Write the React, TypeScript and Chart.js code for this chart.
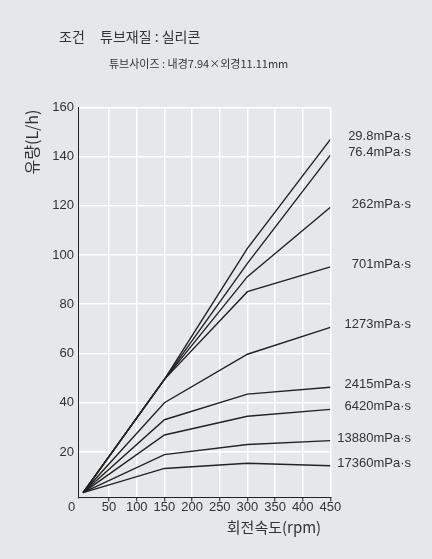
import { useEffect, useRef } from "react";
import { Chart, registerables } from "chart.js";

Chart.register(...registerables);

// ---- data ----
const rpmValues = [3, 150, 300, 450];
const seriesLabels = [
  "29.8mPa·s",
  "76.4mPa·s",
  "262mPa·s",
  "701mPa·s",
  "1273mPa·s",
  "2415mPa·s",
  "6420mPa·s",
  "13880mPa·s",
  "17360mPa·s",
];
const flow29_8 = [3.5, 49.5, 102.7, 147];
const flow76_4 = [3.5, 49.5, 96.6, 140.6];
const flow262 = [3.5, 49.5, 91.2, 119.4];
const flow701 = [3.5, 49.5, 85.1, 95.2];
const flow1273 = [3.5, 40, 59.7, 70.6];
const flow2415 = [3.5, 33.1, 43.5, 46.3];
const flow6420 = [3.5, 26.9, 34.5, 37.3];
const flow13880 = [3.5, 18.9, 23, 24.6];
const flow17360 = [3.5, 13.3, 15.4, 14.4];
const allFlows = [flow29_8, flow76_4, flow262, flow701, flow1273, flow2415, flow6420, flow13880, flow17360];

const xTickValues = [50, 100, 150, 200, 250, 300, 350, 400, 450];
const yTickValues = [20, 40, 60, 80, 100, 120, 140, 160];

const conditionText = "조건";
const materialText = "튜브재질 : 실리콘";
const sizeText = "튜브사이즈 : 내경7.94×외경11.11mm";
const yTitleText = "유량(L/h)";
const xTitleText = "회전속도(rpm)";
const originText = "0";

const BG = "#e6e7e9";
const INK = "#222222";
const TEXT = "#333333";
const LATIN = '"Liberation Sans", Arial, sans-serif';
const KR = '"Noto Sans CJK KR", "Noto Sans", sans-serif';

const textPlugin = {
  id: "extraText",
  afterDraw(chart: any) {
    const ctx = chart.ctx;
    ctx.save();
    ctx.fillStyle = TEXT;
    ctx.textBaseline = "middle";

    // titles
    ctx.textAlign = "left";
    ctx.font = `14px ${KR}`;
    ctx.fillText(conditionText, 59, 37);
    ctx.fillText(materialText, 100, 37);
    ctx.font = `11px ${KR}`;
    ctx.fillText(sizeText, 109, 63.5);

    // x axis title
    ctx.font = `15px ${KR}`;
    ctx.textAlign = "center";
    ctx.fillText(xTitleText, 274, 527);

    // y axis title
    ctx.save();
    ctx.font = `16px ${KR}`;
    ctx.translate(32, 142);
    ctx.rotate(-Math.PI / 2);
    ctx.textAlign = "center";
    ctx.fillText(yTitleText, 0, 0);
    ctx.restore();

    // origin label
    ctx.font = `13px ${LATIN}`;
    ctx.textAlign = "center";
    ctx.fillText(originText, 71.7, 507);

    // series labels at line ends
    ctx.textAlign = "right";
    ctx.font = `13px ${LATIN}`;
    chart.data.datasets.forEach((ds: any, i: number) => {
      const meta = chart.getDatasetMeta(i);
      const last = meta.data[meta.data.length - 1];
      ctx.fillText(ds.label, 411, last.y - 2.5);
    });
    ctx.restore();
  },
};

export default function App() {
  const canvasRef = useRef<HTMLCanvasElement | null>(null);

  useEffect(() => {
    if (!canvasRef.current) return;
    const chart = new Chart(canvasRef.current, {
      type: "line",
      data: {
        datasets: allFlows.map((flows, i) => ({
          label: seriesLabels[i],
          data: rpmValues.map((x, j) => ({ x, y: flows[j] })),
          borderColor: INK,
          borderWidth: 1.4,
          pointRadius: 0,
          tension: 0,
          fill: false,
        })),
      },
      options: {
        animation: false,
        responsive: false,
        events: [],
        layout: { padding: { left: 20, top: 107.3, right: 101.6, bottom: 31.5 } },
        plugins: {
          legend: { display: false },
          tooltip: { enabled: false },
          title: { display: false },
        },
        scales: {
          x: {
            type: "linear",
            min: -6.2,
            max: 450,
            afterBuildTicks: (s: any) => {
              s.ticks = xTickValues.map((v) => ({ value: v }));
            },
            afterFit: (s: any) => {
              s.height = 30;
            },
            grid: {
              color: "#ffffff",
              lineWidth: 1.5,
              drawTicks: true,
              tickLength: 4,
              tickColor: INK,
              tickWidth: 1,
            },
            border: { display: true, color: INK, width: 1 },
            ticks: {
              font: { family: LATIN, size: 13 },
              color: TEXT,
              padding: -2,
              maxRotation: 0,
              autoSkip: false,
            },
          },
          y: {
            type: "linear",
            min: 1.5,
            max: 160,
            afterBuildTicks: (s: any) => {
              s.ticks = yTickValues.map((v) => ({ value: v }));
            },
            afterFit: (s: any) => {
              s.width = 58;
            },
            grid: {
              color: "#ffffff",
              lineWidth: 1.5,
              drawTicks: false,
            },
            border: { display: true, color: INK, width: 1 },
            ticks: {
              font: { family: LATIN, size: 13 },
              color: TEXT,
              padding: 4,
              autoSkip: false,
            },
          },
        },
      } as any,
      plugins: [textPlugin],
    });
    return () => chart.destroy();
  }, []);

  return (
    <div
      style={{
        position: "absolute",
        left: 0,
        top: 0,
        width: 432,
        height: 559,
        background: BG,
      }}
    >
      <canvas ref={canvasRef} width={432} height={559} style={{ width: 432, height: 559, display: "block" }} />
    </div>
  );
}
